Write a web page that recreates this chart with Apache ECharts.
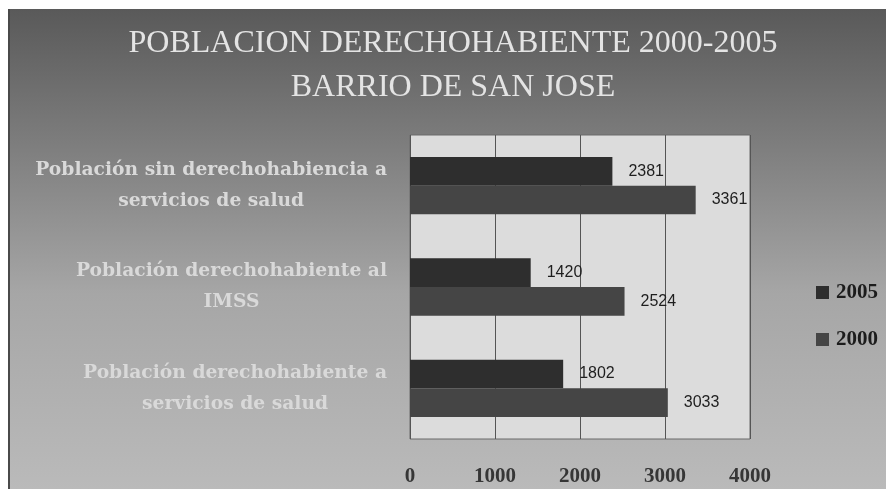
<!DOCTYPE html>
<html>
<head>
<meta charset="utf-8">
<script src="https://cdn.jsdelivr.net/npm/echarts@6/dist/echarts.min.js"></script>
<style>
  html, body { margin: 0; padding: 0; background: #ffffff; }
  #chart { width: 886px; height: 489px; }
</style>
</head>
<body>
<div id="chart"></div>
<script>
// Categories (top to bottom) and values per year
const categories = [
  'Población sin derechohabiencia a\nservicios de salud',
  'Población derechohabiente al\nIMSS',
  'Población derechohabiente a\nservicios de salud'
];
const values2005 = [2381, 1420, 1802];
const values2000 = [3361, 2524, 3033];
const seriesNames = ['2005', '2000'];
const xTicks = { min: 0, max: 4000, interval: 1000 };

const serif = '"Liberation Serif", "Times New Roman", serif';
const wideSerif = '"DejaVu Serif", "Liberation Serif", serif';

const chart = echarts.init(document.getElementById('chart'));

const barLabel = {
  show: true,
  position: 'right',
  distance: 16,
  color: '#1e1e1e',
  fontFamily: '"Liberation Sans Narrow", "Liberation Sans", sans-serif',
  fontSize: 16
};

chart.setOption({
  animation: false,
  backgroundColor: {
    type: 'linear', x: 0, y: 0, x2: 0, y2: 1,
    colorStops: [
      { offset: 0, color: '#575757' },
      { offset: 0.3, color: '#7e7e7e' },
      { offset: 0.6, color: '#a6a6a6' },
      { offset: 1, color: '#bababa' }
    ]
  },
  graphic: [
    { type: 'rect', left: 0, top: 0, shape: { width: 886, height: 9 }, style: { fill: '#ffffff' }, silent: true },
    { type: 'rect', left: 0, top: 0, shape: { width: 8, height: 489 }, style: { fill: '#ffffff' }, silent: true },
    { type: 'rect', left: 8, top: 9, shape: { width: 2, height: 480 }, style: { fill: '#4a4a4a' }, silent: true }
  ],
  title: {
    text: 'POBLACION DERECHOHABIENTE 2000-2005\nBARRIO DE SAN JOSE',
    left: 448,
    textAlign: 'center',
    top: 17,
    textStyle: {
      color: '#e4e4e4',
      fontFamily: serif,
      fontWeight: 'normal',
      fontSize: 32,
      lineHeight: 44
    }
  },
  legend: {
    orient: 'vertical',
    left: 811,
    top: 277,
    itemWidth: 13,
    itemHeight: 13,
    itemGap: 26,
    icon: 'rect',
    data: seriesNames,
    textStyle: {
      color: '#1c1c1c',
      fontFamily: serif,
      fontWeight: 'bold',
      fontSize: 21,
      padding: [0, 0, 0, 2]
    }
  },
  grid: {
    left: 410,
    right: 136,
    top: 135,
    bottom: 50,
    show: true,
    backgroundColor: '#dcdcdc',
    borderColor: '#6a6a6a',
    borderWidth: 1
  },
  xAxis: {
    type: 'value',
    min: xTicks.min,
    max: xTicks.max,
    interval: xTicks.interval,
    axisLine: { show: false },
    axisTick: { show: false },
    splitLine: { show: true, lineStyle: { color: '#555555', width: 1 } },
    axisLabel: {
      margin: 27,
      color: '#363636',
      fontFamily: serif,
      fontWeight: 'bold',
      fontSize: 21,
      formatter: function (v) { return String(v); }
    }
  },
  yAxis: {
    type: 'category',
    inverse: true,
    data: categories,
    axisLine: { show: false },
    axisTick: { show: false },
    axisLabel: {
      margin: 23,
      align: 'right',
      formatter: function (v) {
        return v.split('\n').map(function (l) { return '{c|' + l + '}'; }).join('\n');
      },
      rich: {
        c: {
          align: 'center',
          color: '#d9d9d9',
          fontFamily: wideSerif,
          fontWeight: 'bold',
          fontSize: 18.7,
          lineHeight: 31
        }
      }
    }
  },
  series: [
    {
      name: seriesNames[0],
      type: 'bar',
      data: values2005,
      barWidth: 28.7,
      barGap: '0%',
      barCategoryGap: '43%',
      itemStyle: { color: '#2e2e2e' },
      label: barLabel
    },
    {
      name: seriesNames[1],
      type: 'bar',
      data: values2000,
      barWidth: 28.7,
      barGap: '0%',
      itemStyle: { color: '#454545' },
      label: barLabel
    }
  ]
});
</script>
</body>
</html>
